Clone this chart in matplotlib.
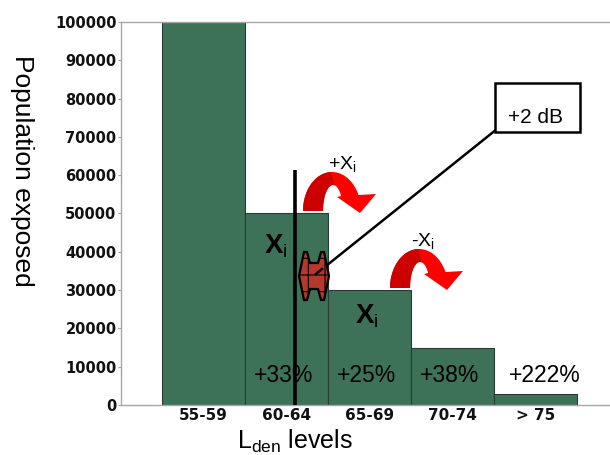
import numpy as np
import matplotlib
matplotlib.use("Agg")
import matplotlib.pyplot as plt
from matplotlib.patches import Polygon, Rectangle

# ---- data ----
categories = ["55-59", "60-64", "65-69", "70-74", "> 75"]
population = [100000, 50000, 30000, 15000, 3000]
pct_labels = ["+33%", "+25%", "+38%", "+222%"]   # for categories 1..4
yticks = list(range(0, 100001, 10000))

plt.rcParams["mathtext.fontset"] = "custom"
plt.rcParams["mathtext.rm"] = "Liberation Sans"
plt.rcParams["mathtext.it"] = "Liberation Sans:italic"
plt.rcParams["mathtext.bf"] = "Liberation Sans:bold"
plt.rcParams["hatch.color"] = "#ff3030"
plt.rcParams["hatch.linewidth"] = 0.8

W, H = 610, 455
fig = plt.figure(figsize=(W / 100, H / 100), dpi=100)
ax = fig.add_axes([121 / W, 50 / H, 489 / W, 383 / H])

x = np.arange(len(categories))
ax.bar(x, population, width=1.0, color="#3d7258", edgecolor="#2b3b33", linewidth=0.8, zorder=2)
ax.set_xlim(-0.994, 4.898)
ax.set_ylim(0, 100000)

ax.set_yticks(yticks)
ax.set_yticklabels([str(v) for v in yticks], fontsize=10.5, fontweight="bold",
                   family="DejaVu Sans", color="#111111")
ax.set_xticks(x)
ax.set_xticklabels(categories, fontsize=11, fontweight="bold", family="DejaVu Sans", color="#111111")
ax.tick_params(axis="x", length=0, pad=2)
ax.tick_params(axis="y", length=2.2, width=0.8, color="#a0a0a0", pad=1)

for s in ["left", "top", "bottom"]:
    ax.spines[s].set_color("#a6a6a6")
    ax.spines[s].set_linewidth(1.0)
ax.spines["right"].set_visible(False)

# axis labels
ax.text(-0.2025, 0.611, "Population exposed", transform=ax.transAxes, rotation=-90,
        ha="center", va="center", fontsize=19, family="Liberation Sans")
ax.text(0.237, -0.114, r"L$_{\mathrm{den}}$ levels", transform=ax.transAxes,
        ha="left", va="baseline", fontsize=18, family="Liberation Sans")

fig.canvas.draw()
inv = ax.transData.inverted()


def P(px, py):
    """pixel position (from top-left) -> data coordinates"""
    return tuple(inv.transform((px, H - py)))


# percentage labels
for i, lab in enumerate(pct_labels, start=1):
    xx = i + (0.11 if i == 4 else -0.03)
    ax.text(xx, P(0, 376)[1], lab, ha="center", va="center", fontsize=16.5,
            family="Liberation Sans", color="black", zorder=5)

# vertical line
vx, vtop = P(295, 170)
ax.plot([vx, vx], [0, vtop], color="black", lw=2.6, zorder=4, solid_capstyle="butt")

# line from box to the double arrow
ax.plot(*zip(P(497, 129), P(316, 274)), color="black", lw=1.8, zorder=6)

# box with +2 dB
bx0, by0 = P(495, 132)
bx1, by1 = P(580, 83)
ax.add_patch(Rectangle((bx0, by0), bx1 - bx0, by1 - by0, fill=True, facecolor="white",
                       edgecolor="black", lw=1.8, zorder=6))
ax.text(*P(536, 117), "+2 dB", ha="center", va="center", fontsize=15,
        family="Liberation Sans", zorder=7)

# X_i labels
ax.text(*P(276, 246), r"$\mathbf{X}_{\mathrm{i}}$", ha="center", va="center", fontsize=20, zorder=5)
ax.text(*P(367, 316), r"$\mathbf{X}_{\mathrm{i}}$", ha="center", va="center", fontsize=20, zorder=5)

# +x_i / -x_i
ax.text(*P(342, 164), r"+X$_{\mathrm{i}}$", ha="center", va="center", fontsize=14,
        family="Liberation Sans", zorder=5)
ax.text(*P(423, 241), r"-X$_{\mathrm{i}}$", ha="center", va="center", fontsize=14,
        family="Liberation Sans", zorder=5)

# curved (U-turn) arrows, built as polygons in pixel space
OC, ORX, ORY = (332, 211), 29, 39
IC, IRX, IRY = (333, 211), 10, 26


def curved_arrow(ox, oy):
    t_out_end = np.degrees(np.arcsin(16 / ORY))
    t_in_end = np.degrees(np.arcsin(15 / IRY))
    to = np.radians(np.linspace(180, t_out_end, 40))
    ti = np.radians(np.linspace(t_in_end, 180, 40))
    outer = [(OC[0] + ORX * np.cos(t), OC[1] - ORY * np.sin(t)) for t in to]
    inner = [(IC[0] + IRX * np.cos(t), IC[1] - IRY * np.sin(t)) for t in ti]
    head = [(376, 194), (360, 213), (337, 197)]
    pts = outer + head + inner
    ax.add_patch(Polygon([P(px + ox, py + oy) for px, py in pts], closed=True,
                         facecolor="#ff0000", edgecolor="none", zorder=5))
    # darker left half
    to2 = np.radians(np.linspace(180, 92, 30))
    ti2 = np.radians(np.linspace(80, 180, 30))
    dark = [(OC[0] + ORX * np.cos(t), OC[1] - ORY * np.sin(t)) for t in to2] + \
           [(IC[0] + IRX * np.cos(t), IC[1] - IRY * np.sin(t)) for t in ti2]
    ax.add_patch(Polygon([P(px + ox, py + oy) for px, py in dark], closed=True,
                         facecolor="#cc0000", edgecolor="none", zorder=5))


curved_arrow(0, 0)
curved_arrow(87, 77)

# double arrow
cx, cy = 314, 276
shape = [(-15, 0), (-10, -24), (-7, -24), (-4, -13), (4, -13), (7, -24), (10, -24), (15, 0),
         (10, 24), (7, 24), (4, 13), (-4, 13), (-7, 24), (-10, 24)]
poly = Polygon([P(cx + dx, cy + dy) for dx, dy in shape], closed=True,
               facecolor="#b5382a", edgecolor="black", lw=1.6, zorder=7, hatch="+")
ax.add_patch(poly)
ax.plot(*zip(P(316, 274), P(322, 269)), color="black", lw=1.8, zorder=8)

fig.savefig("out.png", dpi=100)
